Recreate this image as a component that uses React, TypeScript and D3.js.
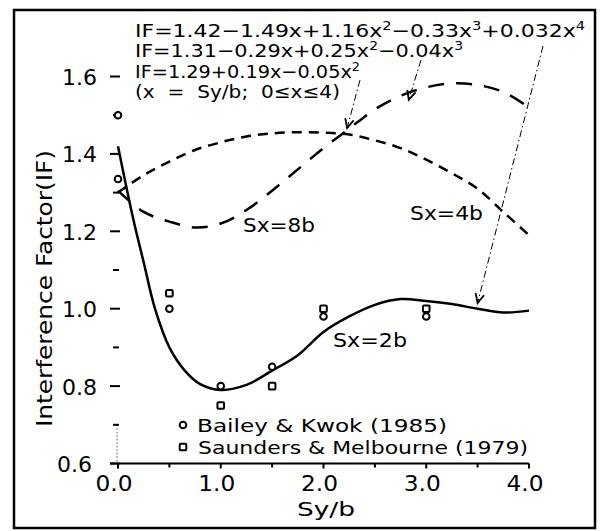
import React from 'react';
import * as d3 from 'd3';

// ---- data ----
const gridX = [0, 0.25, 0.5, 0.75, 1.0, 1.25, 1.5, 1.75, 2.0, 2.25, 2.5, 2.75, 3.0, 3.25, 3.5, 3.75, 4.0];
const sx4bY = [1.30, 1.345, 1.38, 1.41, 1.43, 1.445, 1.453, 1.456, 1.455, 1.45, 1.435, 1.415, 1.385, 1.35, 1.31, 1.25, 1.19];
const sx8bY = [1.305, 1.25, 1.225, 1.21, 1.22, 1.255, 1.305, 1.36, 1.415, 1.465, 1.515, 1.55, 1.572, 1.582, 1.578, 1.56, 1.52];
const sx2bX = [0, 0.15, 0.25, 0.36, 0.5, 0.65, 0.8, 1.0, 1.25, 1.5, 1.75, 2.0, 2.25, 2.5, 2.75, 3.0, 3.25, 3.5, 3.75, 4.0];
const sx2bY = [1.42, 1.23, 1.12, 1.0, 0.9, 0.84, 0.805, 0.79, 0.803, 0.84, 0.88, 0.94, 0.98, 1.01, 1.025, 1.02, 1.012, 1.0, 0.99, 0.995];

const bkX = [0, 0, 0.5, 1.0, 1.5, 2.0, 3.0];
const bkY = [1.5, 1.335, 1.0, 0.8, 0.85, 0.98, 0.98];
const smX = [0.5, 1.0, 1.5, 2.0, 3.0];
const smY = [1.04, 0.75, 0.8, 1.0, 1.0];

const xMajor = [0, 1, 2, 3, 4];
const xMinor = [0.5, 1.5, 2.5, 3.5];
const yMajor = [0.6, 0.8, 1.0, 1.2, 1.4, 1.6];
const yMinor = [0.7, 0.9, 1.1, 1.3, 1.5];

const curveLabels = ['Sx=8b', 'Sx=4b', 'Sx=2b'];
const legendLabels = ['Bailey & Kwok (1985)', 'Saunders & Melbourne (1979)'];

const FONT = "'DejaVu Sans', sans-serif";

export default function App() {
  const x = d3.scaleLinear().domain([0, 4]).range([118, 529]);
  const y = d3.scaleLinear().domain([0.6, 1.6]).range([463.5, 76.5]);
  const line = d3.line<[number, number]>().x(d => x(d[0])).y(d => y(d[1])).curve(d3.curveCatmullRom.alpha(0.5));
  const fmt = d3.format('.1f');

  const p4 = line(gridX.map((v, i) => [v, sx4bY[i]]) as [number, number][]) || '';
  const p8 = line(gridX.map((v, i) => [v, sx8bY[i]]) as [number, number][]) || '';
  const p2 = line(sx2bX.map((v, i) => [v, sx2bY[i]]) as [number, number][]) || '';

  const arrows = [
    { sx: 543, sy: 46, tx: x(3.5), ty: y(1.015) },
    { sx: 421, sy: 60, tx: x(2.83), ty: y(1.54) },
    { sx: 360, sy: 80, tx: x(2.23), ty: y(1.467) },
  ];

  const head = (a: any) => {
    const ang = Math.atan2(a.ty - a.sy, a.tx - a.sx);
    const L = 10, w = 0.45;
    const p1 = [a.tx - L * Math.cos(ang - w), a.ty - L * Math.sin(ang - w)];
    const p2b = [a.tx - L * Math.cos(ang + w), a.ty - L * Math.sin(ang + w)];
    return `M${p1[0]},${p1[1]}L${a.tx},${a.ty}L${p2b[0]},${p2b[1]}`;
  };

  const sup = (s: string) => (
    <tspan dy={-7} fontSize={12}>{s}</tspan>
  );
  const down = (s: string) => <tspan dy={7}>{s}</tspan>;

  return (
    <svg width={600} height={531} style={{ position: 'absolute', left: 0, top: 0, background: '#fff' }}
      fontFamily={FONT}>
      <rect x={0} y={0} width={600} height={531} fill="#fff" />
      <rect x={14} y={10} width={581} height={518} fill="none" stroke="#000" strokeWidth={2.5} />

      {/* x axis */}
      <line x1={110} x2={x(4)} y1={y(0.6)} y2={y(0.6)} stroke="#000" strokeWidth={2.2} />
      {xMajor.map(v => (
        <line key={'xm' + v} x1={x(v)} x2={x(v)} y1={y(0.6)} y2={y(0.6) + 5} stroke="#000" strokeWidth={2} />
      ))}
      {xMinor.map(v => (
        <line key={'xn' + v} x1={x(v)} x2={x(v)} y1={y(0.6)} y2={y(0.6) + 4} stroke="#000" strokeWidth={2} />
      ))}
      {xMajor.map(v => (
        <text key={'xl' + v} x={x(v) - 4} y={491} fontSize={21} textAnchor="middle"
          textLength={37} lengthAdjust="spacingAndGlyphs">{fmt(v)}</text>
      ))}
      <text x={326} y={516} fontSize={20} textAnchor="middle" textLength={58} lengthAdjust="spacingAndGlyphs">Sy/b</text>

      {/* y axis */}
      <line x1={117} x2={117} y1={y(0.7)} y2={y(0.6)} stroke="#555" strokeWidth={1} strokeDasharray="1.5,2" />
      {yMajor.map(v => (
        <line key={'ym' + v} x1={110} x2={120} y1={y(v)} y2={y(v)} stroke="#000" strokeWidth={2} />
      ))}
      {yMinor.map(v => (
        <line key={'yn' + v} x1={113} x2={119} y1={y(v)} y2={y(v)} stroke="#000" strokeWidth={2} />
      ))}
      {yMajor.map(v => (
        <text key={'yl' + v} x={v === 0.6 ? 92 : 97} y={y(v) + 8.5} fontSize={22} textAnchor="end"
          textLength={35} lengthAdjust="spacingAndGlyphs">{fmt(v)}</text>
      ))}
      <text transform="translate(52,288.5) rotate(-90)" fontSize={21} textAnchor="middle"
        textLength={277} lengthAdjust="spacingAndGlyphs">Interference  Factor(IF)</text>

      {/* curves */}
      <path d={p8} fill="none" stroke="#000" strokeWidth={2.5} strokeDasharray="16,12" />
      <path d={p4} fill="none" stroke="#000" strokeWidth={2.5} strokeDasharray="10,7" />
      <path d={p2} fill="none" stroke="#000" strokeWidth={2.5} />

      {/* markers */}
      {bkX.map((v, i) => (
        <circle key={'c' + i} cx={x(v)} cy={y(bkY[i])} r={3.3} fill="#fff" stroke="#000" strokeWidth={2} />
      ))}
      {smX.map((v, i) => (
        <rect key={'s' + i} x={x(v) - 3.3} y={y(smY[i]) - 3.3} width={6.6} height={6.6} rx={1}
          fill="#fff" stroke="#000" strokeWidth={2} />
      ))}

      {/* curve labels */}
      <text x={243} y={232} fontSize={20} textLength={72} lengthAdjust="spacingAndGlyphs">{curveLabels[0]}</text>
      <text x={410} y={220} fontSize={20} textLength={73} lengthAdjust="spacingAndGlyphs">{curveLabels[1]}</text>
      <text x={333} y={347} fontSize={20} textLength={74} lengthAdjust="spacingAndGlyphs">{curveLabels[2]}</text>

      {/* equations */}
      <g fontSize={18}>
        <text x={135} y={37} textLength={450} lengthAdjust="spacingAndGlyphs">
          IF=1.42−1.49x+1.16x{sup('2')}{down('−0.33x')}{sup('3')}{down('+0.032x')}{sup('4')}
        </text>
        <text x={135} y={57} textLength={328} lengthAdjust="spacingAndGlyphs">
          IF=1.31−0.29x+0.25x{sup('2')}{down('−0.04x')}{sup('3')}
        </text>
        <text x={135} y={78} textLength={225} lengthAdjust="spacingAndGlyphs">
          IF=1.29+0.19x−0.05x{sup('2')}
        </text>
        <text x={135} y={98} textLength={205} lengthAdjust="spacingAndGlyphs" xmlSpace="preserve">
          (x  =  Sy/b;  0≤x≤4)
        </text>
      </g>

      {/* arrows */}
      {arrows.map((a, i) => (
        <g key={'a' + i}>
          <line x1={a.sx} y1={a.sy} x2={a.tx} y2={a.ty} stroke="#000" strokeWidth={1} strokeDasharray="7,3,1.5,3" />
          <path d={head(a)} fill="none" stroke="#000" strokeWidth={1.8} />
        </g>
      ))}

      {/* legend */}
      <circle cx={183} cy={425} r={3.3} fill="#fff" stroke="#000" strokeWidth={2} />
      <text x={197} y={432} fontSize={18} textLength={250} lengthAdjust="spacingAndGlyphs" xmlSpace="preserve">{legendLabels[0]}</text>
      <rect x={183 - 3.3} y={447 - 3.3} width={6.6} height={6.6} rx={1} fill="#fff" stroke="#000" strokeWidth={2} />
      <text x={198} y={454} fontSize={18} textLength={330} lengthAdjust="spacingAndGlyphs" xmlSpace="preserve">{legendLabels[1]}</text>
    </svg>
  );
}
